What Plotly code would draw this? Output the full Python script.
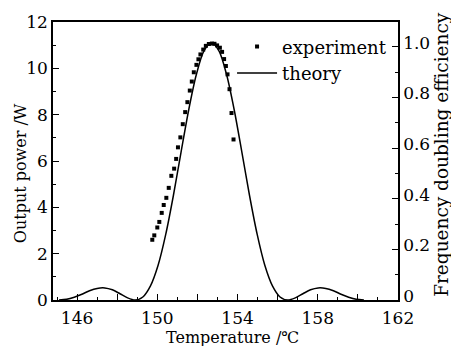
import plotly.graph_objects as go

# Theory curve (Output power, W)
theory_T = [145.10, 145.48, 145.86, 146.24, 146.62, 147.00, 147.38, 147.76, 148.14, 148.52,
            148.90, 149.28, 149.66, 150.04, 150.42, 150.80, 151.18, 151.56, 151.94, 152.32,
            152.70, 153.08, 153.46, 153.84, 154.22, 154.60, 154.98, 155.36, 155.74, 156.12,
            156.50, 156.88, 157.26, 157.64, 158.02, 158.40, 158.78, 159.16, 159.54, 159.92, 160.30]
theory_P = [0.00, 0.03, 0.12, 0.25, 0.40, 0.50, 0.52, 0.44, 0.27, 0.09,
            0.00, 0.13, 0.61, 1.50, 2.83, 4.50, 6.36, 8.18, 9.71, 10.74,
            11.10, 10.74, 9.71, 8.18, 6.36, 4.50, 2.83, 1.50, 0.61, 0.13,
            0.00, 0.09, 0.27, 0.44, 0.52, 0.50, 0.40, 0.25, 0.12, 0.03, 0.00]

# Experimental points
exp_T = [149.75, 149.85, 150.00, 150.10, 150.22, 150.32, 150.45, 150.57, 150.70, 150.84,
         150.94, 151.03, 151.15, 151.27, 151.39, 151.50, 151.62, 151.72, 151.82, 151.95,
         152.05, 152.15, 152.29, 152.42, 152.57, 152.72, 152.85, 152.98, 153.12, 153.23,
         153.33, 153.42, 153.50, 153.60, 153.70, 153.80]
exp_P = [2.60, 2.79, 3.13, 3.37, 3.76, 4.10, 4.41, 4.84, 5.36, 5.67,
         6.09, 6.59, 7.02, 7.59, 8.11, 8.54, 9.04, 9.43, 9.83, 10.15,
         10.39, 10.60, 10.81, 10.97, 11.05, 11.07, 11.06, 10.99, 10.89, 10.71,
         10.40, 10.10, 9.74, 9.10, 8.07, 6.93]

eff_ticks = [0, 0.2, 0.4, 0.6, 0.8, 1.0]
eff_text = ["0", "0.2", "0.4", "0.6", "0.8", "1.0"]

FONT = "DejaVu Serif"

fig = go.Figure()
fig.add_trace(go.Scatter(x=exp_T, y=exp_P, mode="markers", name="experiment",
                         marker=dict(symbol="square", size=4, color="black")))
fig.add_trace(go.Scatter(x=theory_T, y=theory_P, mode="lines", name="theory",
                         line=dict(color="black", width=1.5, shape="spline", smoothing=0.8)))
fig.add_trace(go.Scatter(x=[None], y=[None], yaxis="y2", showlegend=False, hoverinfo="skip"))

axis_common = dict(showline=True, linecolor="black", linewidth=1.5, showgrid=False,
                   zeroline=False, ticks="inside", tickcolor="black", tickwidth=1.2,
                   tickfont=dict(family=FONT, size=17, color="black"))

fig.update_layout(
    width=451, height=346,
    margin=dict(l=53, r=53, t=20, b=46),
    paper_bgcolor="white", plot_bgcolor="white",
    font=dict(family=FONT, size=16, color="black"),
    xaxis=dict(range=[144.8, 162], tick0=146, dtick=2, ticklabelstep=2, ticklen=6,
               minor=dict(dtick=1, tick0=145, ticklen=3, ticks="inside", tickcolor="black"),
               mirror=True, ticklabelstandoff=2,
               **axis_common),
    yaxis=dict(range=[0, 12], tick0=0, dtick=2, ticklen=6,
               minor=dict(dtick=1, tick0=0, ticklen=3, ticks="inside", tickcolor="black"),
               **axis_common),
    yaxis2=dict(range=[0, 1.098], overlaying="y", side="right", tickmode="array",
                tickvals=eff_ticks, ticktext=eff_text, ticklen=6, ticklabelshift=-4,
                minor=dict(tickmode="linear", dtick=0.1, tick0=0, ticklen=3, ticks="inside", tickcolor="black"),
                **axis_common),
    legend=dict(x=0.519, y=0.977, xanchor="left", yanchor="top", bgcolor="rgba(0,0,0,0)",
                font=dict(family=FONT, size=18), itemwidth=40, tracegroupgap=0),
    showlegend=True,
    annotations=[
        dict(text="Temperature /℃", xref="paper", yref="paper", x=0.52, y=-0.134,
             xanchor="center", yanchor="middle", showarrow=False,
             font=dict(family=FONT, size=16, color="black")),
        dict(text="Output power /W", xref="paper", yref="paper", x=-0.092, y=0.457,
             xanchor="center", yanchor="middle", textangle=-90, showarrow=False,
             font=dict(family=FONT, size=16, color="black")),
        dict(text="Frequency doubling efficiency", xref="paper", yref="paper", x=1.124, y=0.525,
             xanchor="center", yanchor="middle", textangle=-90, showarrow=False,
             font=dict(family=FONT, size=18.5, color="black")),
    ],
)

fig.write_html("out.html")
